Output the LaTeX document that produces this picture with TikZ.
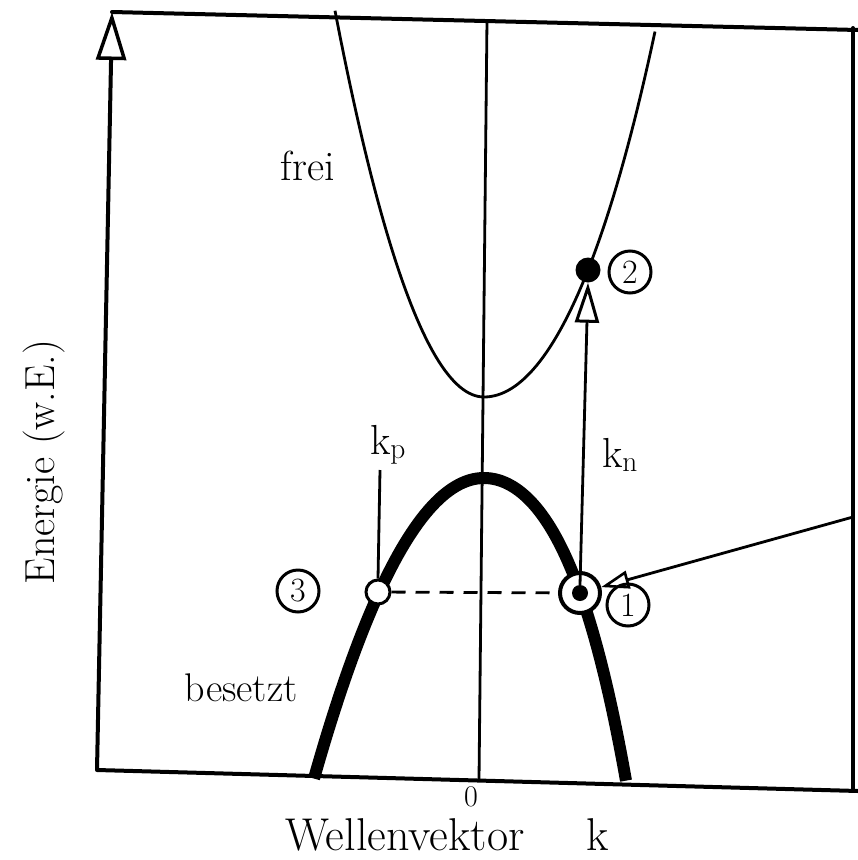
\documentclass[tikz,border=0pt]{standalone}
\usepackage{fontspec}
\usetikzlibrary{arrows.meta}
\begin{document}
\begin{tikzpicture}[x=1pt,y=-1pt,
  frame/.style={line width=4pt, line cap=round},
  thinline/.style={line width=2.8pt},
  lbl/.style={inner sep=0pt, font=\fontsize{42}{48}\selectfont},
  numc/.style={circle, draw, line width=3pt, minimum size=42pt, inner sep=0pt, font=\fontsize{34}{38}\selectfont},
  axistip/.style={-{Triangle[open, length=48pt, width=30pt, line width=3.5pt]}},
  opentip/.style={-{Triangle[open, length=40pt, width=24pt, line width=3pt]}},
  smalltip/.style={-{Triangle[open, length=28pt, width=18pt, line width=2.6pt]}}
]
\useasboundingbox (0,0) rectangle (858,860);
\fill[white] (0,0) rectangle (858,860);

% frame
\coordinate (tl) at (112,12);
\coordinate (tr) at (858,30);
\coordinate (bl) at (97,770);
\coordinate (br) at (858,791);
\coordinate (rt) at (853,28);
\coordinate (rb) at (853,790);
\draw[frame] (tl) -- (tr);
\draw[frame] (bl) -- (br);
\draw[frame] (rt) -- (rb);
\draw[frame, line cap=butt, axistip] (bl) -- (tl);

% centre line
\coordinate (ct) at (487,20);
\coordinate (cb) at (479,780);
\draw[thinline] (ct) -- (cb);

% upper band (frei)
\draw[thinline] plot[domain=-149:0, samples=50] ({484+\x}, {397-174*(\x/100)*(\x/100)})
  -- plot[domain=0:171, samples=50] ({484+\x}, {397-112.9*(\x/100)*(\x/100)-4.13*(\x/100)*(\x/100)*(\x/100)*(\x/100)});

% lower band (besetzt)
\draw[line width=12pt] plot[domain=-170:0, samples=50] ({484+\x}, {478+104*(\x/100)*(\x/100)})
  -- plot[domain=0:142, samples=50] ({484+\x}, {478+101.5*(\x/100)*(\x/100)+24.1*(\x/100)*(\x/100)*(\x/100)*(\x/100)});

% points
\node[circle, fill=black, minimum size=25pt, inner sep=0pt] (p2) at (588,270) {};
\node[circle, draw, fill=white, line width=3pt, minimum size=24pt, inner sep=0pt] (p3) at (378,592) {};
\node[circle, draw, fill=white, line width=4pt, minimum size=40pt, inner sep=0pt] (p1) at (580,593) {};
\node[circle, fill=black, minimum size=16pt, inner sep=0pt] (p1in) at (580,593) {};

% dashed
\draw[thinline, dash pattern=on 14pt off 10pt] (p3) -- (p1);

% kp
\node[lbl] (kp) at (388,445) {k$_{\mathrm{p}}$};
\coordinate (kpend) at (380,470);
\draw[thinline] (kpend) -- (p3.north);

% kn and transition
\node[lbl] (kn) at (620,455) {k$_{\mathrm{n}}$};
\draw[thinline, opentip] (p1in.north) -- (p2.south);

% incoming arrow
\coordinate (rin) at (853,517);
\draw[thinline, smalltip] (rin) -- (p1);

% circled numbers
\node[numc] (n2) at (630,272) {2};
\node[numc] (n3) at (298,591) {3};
\node[numc] (n1) at (628,605) {1};

% texts
\node[lbl] (frei) at (308,166) {frei};
\node[inner sep=0pt, font=\fontsize{40}{46}\selectfont] (bes) at (241,688) {besetzt};
\node[inner sep=0pt, rotate=90, font=\fontsize{42}{48}\selectfont] (ylab) at (44,462) {Energie (w.E.)};
\node[inner sep=0pt, font=\fontsize{30}{34}\selectfont] (zero) at (471,797) {0};
\node[inner sep=0pt, font=\fontsize{46}{52}\selectfont, anchor=base] (wl) at (405,850) {Wellenvektor};
\node[inner sep=0pt, font=\fontsize{46}{52}\selectfont, anchor=base] (kk) at (598,850) {k};
\end{tikzpicture}
\end{document}
